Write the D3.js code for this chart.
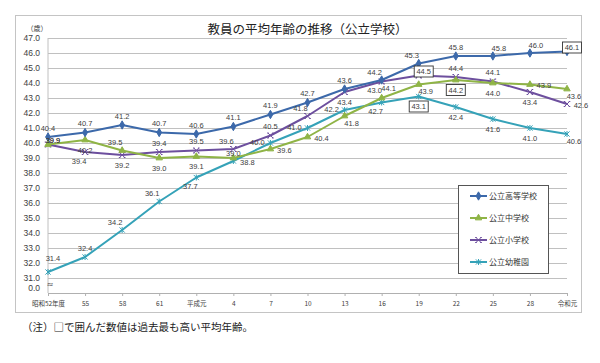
<!DOCTYPE html>
<html>
<head>
<meta charset="utf-8">
<script src="https://cdn.jsdelivr.net/npm/d3@7"></script>
<style>
  body { margin: 0; background: #fff; }
</style>
</head>
<body>
<div id="chart"></div>
<script>
// categories and values
var years = ["昭和52年度", "55", "58", "61", "平成元", "4", "7", "10", "13", "16", "19", "22", "25", "28", "令和元"]
var highSchool = [40.4, 40.7, 41.2, 40.7, 40.6, 41.1, 41.9, 42.7, 43.6, 44.2, 45.3, 45.8, 45.8, 46.0, 46.1]
var middleSchool = [39.9, 40.2, 39.5, 39.0, 39.1, 39.0, 39.6, 40.4, 41.8, 43.0, 43.9, 44.2, 44.0, 43.9, 43.6]
var elementary = [39.9, 39.4, 39.2, 39.4, 39.5, 39.6, 40.5, 41.8, 43.4, 44.1, 44.5, 44.4, 44.1, 43.4, 42.6]
var kindergarten = [31.4, 32.4, 34.2, 36.1, 37.7, 38.8, 40.0, 41.0, 42.2, 42.7, 43.1, 42.4, 41.6, 41.0, 40.6]
var seriesNames = ["公立高等学校", "公立中学校", "公立小学校", "公立幼稚園"]
var yTicks = [31, 32, 33, 34, 35, 36, 37, 38, 39, 40, 41, 42, 43, 44, 45, 46, 47]

// where each data label sits relative to its point
var highPlace = ["a", "a", "a", "a", "a", "a", "a", "a", "a", "al", "al", "a", "ar", "ar", "n"]
var middlePlace = ["n", "b", "al", "b", "b", "u", "r", "r", "br", "al", "br", "b", "b", "r", "br"]
var elemPlace = ["n", "bl", "b", "a", "a", "al", "a", "al", "b", "br", "n", "a", "a", "b", "r"]
var kinderPlace = ["A", "a", "al", "al", "bl", "r", "l", "l", "l", "bl", "b", "b", "b", "b", "br"]

var offsets = {
  a: [0, -9], b: [0, 10], r: [14, 1], l: [-13, -1],
  al: [-7, -8], ar: [6, -8], bl: [-6, 9], br: [7, 7],
  n: [5, -4], u: [0, -5], A: [5, -14]
}

var colors = ["#3c69aa", "#8fb446", "#6d4f9e", "#35a2b8"]

var series = [
  { name: seriesNames[0], values: highSchool, place: highPlace, color: colors[0], marker: "diamond" },
  { name: seriesNames[1], values: middleSchool, place: middlePlace, color: colors[1], marker: "triangle" },
  { name: seriesNames[2], values: elementary, place: elemPlace, color: colors[2], marker: "x" },
  { name: seriesNames[3], values: kindergarten, place: kinderPlace, color: colors[3], marker: "star" }
]

var width = 600, height = 363
var plotLeft = 48, plotRight = 567, plotTop = 38, plotBottom = 293

var svg = d3.select("#chart").append("svg")
  .attr("width", width)
  .attr("height", height)

// chart frame
svg.append("rect")
  .attr("x", 15.5).attr("y", 15.5)
  .attr("width", 566).attr("height", 297)
  .attr("fill", "#fff")
  .attr("stroke", "#c4c4c4")

var x = d3.scalePoint().domain(years).range([plotLeft, plotRight])
var y = d3.scaleLinear().domain([30, 47]).range([plotBottom, plotTop])

// gridlines + y labels
var yAxis = svg.append("g")
  .attr("transform", "translate(" + plotLeft + ",0)")
  .call(d3.axisLeft(y).tickValues(yTicks).tickFormat(d3.format(".1f")).tickSize(-(plotRight - plotLeft)).tickPadding(8))
yAxis.select(".domain").remove()
yAxis.selectAll(".tick line").attr("stroke", "#c0c0c0")
yAxis.selectAll(".tick text")
  .attr("font-family", "Liberation Sans, Arial, sans-serif")
  .attr("font-size", 8.5)
  .attr("fill", "#404040")

svg.append("line")
  .attr("x1", plotLeft).attr("x2", plotLeft)
  .attr("y1", plotTop).attr("y2", plotBottom)
  .attr("stroke", "#c0c0c0")

// broken axis marks
svg.append("text")
  .attr("x", plotLeft - 8).attr("y", y(30) - 5)
  .attr("dy", "0.35em")
  .attr("text-anchor", "end")
  .attr("font-family", "Liberation Sans, Arial, sans-serif")
  .attr("font-size", 8.5)
  .attr("fill", "#404040")
  .text("0.0")
svg.append("text")
  .attr("x", plotLeft + 2).attr("y", y(30) - 9)
  .attr("dy", "0.35em")
  .attr("text-anchor", "middle")
  .attr("font-family", "DejaVu Sans, sans-serif")
  .attr("font-size", 8)
  .attr("fill", "#404040")
  .text("≈")

svg.append("text")
  .attr("x", 37).attr("y", 29)
  .attr("dy", "0.35em")
  .attr("text-anchor", "middle")
  .attr("font-family", "Noto Sans CJK JP, sans-serif")
  .attr("font-size", 7)
  .attr("fill", "#404040")
  .text("（歳）")

// x axis
var xAxis = svg.append("g")
  .attr("transform", "translate(0," + plotBottom + ")")
  .call(d3.axisBottom(x).tickSize(3).tickPadding(5))
xAxis.select(".domain").attr("stroke", "#b0b0b0")
xAxis.selectAll(".tick line").attr("stroke", "#b0b0b0")
xAxis.selectAll(".tick text")
  .attr("font-family", "Noto Sans CJK JP, sans-serif")
  .attr("font-size", 6.5)
  .attr("fill", "#404040")

// title
svg.append("text")
  .attr("x", (plotLeft + plotRight) / 2).attr("y", 30)
  .attr("dy", "0.35em")
  .attr("text-anchor", "middle")
  .attr("font-family", "Noto Sans CJK JP, sans-serif")
  .attr("font-size", 12.5)
  .attr("fill", "#222")
  .text("教員の平均年齢の推移（公立学校）")

function markerPath(kind) {
  if (kind === "diamond") return d3.symbol(d3.symbolDiamond).size(20)()
  if (kind === "triangle") return d3.symbol(d3.symbolTriangle).size(18)()
  if (kind === "x") return "M-2.5,-2.5L2.5,2.5M-2.5,2.5L2.5,-2.5M-3.3,-2.5L-1.7,-2.5M1.7,-2.5L3.3,-2.5M-3.3,2.5L-1.7,2.5M1.7,2.5L3.3,2.5"
  return "M-2.6,-2.6L2.6,2.6M-2.6,2.6L2.6,-2.6M0,-3L0,3"
}
function isFilled(kind) { return kind === "diamond" || kind === "triangle" }

var line = d3.line()
  .x((d, i) => x(years[i]))
  .y(d => y(d))

// draw lines back to front so the high school line ends on top
var drawOrder = [3, 2, 1, 0]
drawOrder.forEach(k => {
  var s = series[k]
  svg.append("path")
    .datum(s.values)
    .attr("fill", "none")
    .attr("stroke", s.color)
    .attr("stroke-width", 2)
    .attr("stroke-linejoin", "round")
    .attr("d", line)

  svg.append("g").selectAll("path")
    .data(s.values)
    .enter()
    .append("path")
    .attr("transform", (d, i) => "translate(" + x(years[i]) + "," + y(d) + ")")
    .attr("d", markerPath(s.marker))
    .attr("fill", isFilled(s.marker) ? s.color : "none")
    .attr("stroke", s.color)
    .attr("stroke-width", isFilled(s.marker) ? 1 : 1)
})

// data labels (highest value of each series is boxed)
series.forEach(s => {
  var maxIdx = d3.maxIndex(s.values)
  var g = svg.append("g")
  s.values.forEach((v, i) => {
    var off = offsets[s.place[i]]
    var lx = x(years[i]) + off[0], ly = y(v) + off[1]
    if (i === maxIdx) {
      g.append("rect")
        .attr("x", lx - 9.5).attr("y", ly - 5.5)
        .attr("width", 19).attr("height", 11)
        .attr("fill", "#fff")
        .attr("stroke", "#333")
        .attr("stroke-width", 0.9)
    }
    g.append("text")
      .attr("x", lx).attr("y", ly)
      .attr("dy", "0.35em")
      .attr("text-anchor", "middle")
      .attr("font-family", "Liberation Sans, Arial, sans-serif")
      .attr("font-size", 7.5)
      .attr("fill", "#404040")
      .text(d3.format(".1f")(v))
  })
})

// legend
var legend = svg.append("g").attr("transform", "translate(458,185)")
legend.append("rect")
  .attr("x", 0.5).attr("y", 0.5)
  .attr("width", 90).attr("height", 88)
  .attr("fill", "#fff")
  .attr("stroke", "#555")
series.forEach((s, i) => {
  var ly = 11 + i * 22
  legend.append("line")
    .attr("x1", 12).attr("x2", 29)
    .attr("y1", ly).attr("y2", ly)
    .attr("stroke", s.color)
    .attr("stroke-width", 2)
  legend.append("path")
    .attr("transform", "translate(20.5," + ly + ")")
    .attr("d", markerPath(s.marker))
    .attr("fill", isFilled(s.marker) ? s.color : "none")
    .attr("stroke", s.color)
  legend.append("text")
    .attr("x", 31).attr("y", ly)
    .attr("dy", "0.35em")
    .attr("font-family", "Noto Sans CJK JP, sans-serif")
    .attr("font-size", 8)
    .attr("fill", "#333")
    .text(s.name)
})

// note under the chart
svg.append("text")
  .attr("x", 22).attr("y", 327)
  .attr("dy", "0.35em")
  .attr("font-family", "Noto Sans CJK JP, sans-serif")
  .attr("font-size", 10.5)
  .attr("fill", "#222")
  .text("（注）□で囲んだ数値は過去最も高い平均年齢。")
</script>
</body>
</html>
